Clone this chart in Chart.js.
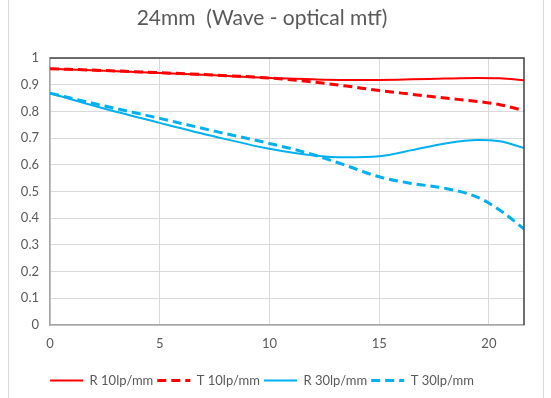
<!DOCTYPE html>
<html>
<head>
<meta charset="utf-8">
<script src="https://cdn.jsdelivr.net/npm/chart.js@4.4.0/dist/chart.umd.min.js"></script>
<style>
  body { margin: 0; background: #fff; }
  #wrap { position: relative; width: 551px; height: 398px; }
  #frame { position: absolute; left: 8px; top: 0; width: 534px; height: 398px;
           border-left: 1px solid #d9d9d9; border-right: 1px solid #d9d9d9; }
  canvas { position: absolute; left: 0; top: 0; }
</style>
</head>
<body>
<div id="wrap">
  <div id="frame"></div>
  <canvas id="mtfChart" width="551" height="398"></canvas>
</div>
<script>
// Datos
const titleText = '24mm  (Wave - optical mtf)';
const seriesNames = ['R 10lp/mm', 'T 10lp/mm', 'R 30lp/mm', 'T 30lp/mm'];
const xValues = [0, 2.5, 5, 7.5, 10, 12, 13.5, 15, 16.5, 18, 19.5, 20.5, 21.6];
const r10 = [0.960, 0.952, 0.944, 0.935, 0.925, 0.920, 0.918, 0.918, 0.920, 0.923, 0.925, 0.924, 0.917];
const t10 = [0.960, 0.953, 0.945, 0.936, 0.925, 0.910, 0.895, 0.878, 0.864, 0.850, 0.837, 0.825, 0.803];
const r30 = [0.868, 0.810, 0.757, 0.706, 0.660, 0.635, 0.628, 0.632, 0.655, 0.680, 0.693, 0.688, 0.663];
const t30 = [0.868, 0.820, 0.774, 0.726, 0.680, 0.638, 0.597, 0.555, 0.530, 0.512, 0.478, 0.430, 0.360];
const xTicks = [0, 5, 10, 15, 20];

const RED = '#ff0000';
const BLUE = '#00b0f0';
const TEXT = '#595959';
const DASH = [9, 5];

function toPoints(values) {
    return values.map((v, i) => ({ x: xValues[i], y: v }));
}

function makeSet(label, values, color, dashed) {
    return {
        label: label,
        data: toPoints(values),
        borderColor: color,
        backgroundColor: color,
        borderWidth: dashed ? 3 : 2,
        borderDash: dashed ? DASH : [],
        pointRadius: 0,
        cubicInterpolationMode: 'monotone',
        fill: false
    };
}

// Título y borde superior/derecho del área de trazado
const extras = {
    id: 'extras',
    afterDraw(chart) {
        const { ctx, chartArea } = chart;
        ctx.save();
        ctx.strokeStyle = '#404040';
        ctx.lineWidth = 1.5;
        ctx.beginPath();
        ctx.moveTo(chartArea.left, chartArea.top);
        ctx.lineTo(chartArea.right, chartArea.top);
        ctx.lineTo(chartArea.right, chartArea.bottom);
        ctx.stroke();
        ctx.fillStyle = TEXT;
        ctx.font = '21px Lato';
        ctx.textAlign = 'center';
        ctx.textBaseline = 'middle';
        ctx.fillText(titleText, 262, 18);
        ctx.restore();
    }
};

const ctx = document.getElementById('mtfChart').getContext('2d');
new Chart(ctx, {
    type: 'line',
    data: {
        datasets: [
            makeSet(seriesNames[0], r10, RED, false),
            makeSet(seriesNames[1], t10, RED, true),
            makeSet(seriesNames[2], r30, BLUE, false),
            makeSet(seriesNames[3], t30, BLUE, true)
        ]
    },
    options: {
        responsive: false,
        animation: false,
        layout: { padding: { top: 58, left: 0, right: 27, bottom: 1 } },
        font: { family: 'Lato' },
        scales: {
            x: {
                type: 'linear',
                min: 0,
                max: 21.6,
                afterBuildTicks: (scale) => { scale.ticks = xTicks.map(v => ({ value: v })); },
                afterFit: (scale) => { scale.height = 45; },
                grid: { color: '#d9d9d9', drawTicks: false },
                border: { color: '#a6a6a6', width: 1.5 },
                ticks: { color: TEXT, padding: 11, font: { family: 'Lato', size: 13 } }
            },
            y: {
                min: 0,
                max: 1,
                afterFit: (scale) => { scale.width = 50; },
                grid: { color: '#d9d9d9', drawTicks: false },
                border: { color: '#a6a6a6', width: 1.5 },
                ticks: {
                    stepSize: 0.1,
                    color: TEXT,
                    padding: 11,
                    font: { family: 'Lato', size: 13 },
                    callback: (v) => String(Math.round(v * 10) / 10)
                }
            }
        },
        plugins: {
            title: { display: false },
            tooltip: { enabled: false },
            legend: {
                position: 'bottom',
                labels: {
                    usePointStyle: true,
                    pointStyle: 'line',
                    pointStyleWidth: 33,
                    boxWidth: 33,
                    padding: 4,
                    color: TEXT,
                    font: { family: 'Lato', size: 13 },
                    generateLabels: (chart) => {
                        const items = Chart.defaults.plugins.legend.labels.generateLabels(chart);
                        items.forEach((item, i) => {
                            const ds = chart.data.datasets[i];
                            item.lineDash = ds.borderDash;
                            item.lineWidth = ds.borderWidth;
                            item.strokeStyle = ds.borderColor;
                        });
                        return items;
                    }
                }
            }
        }
    },
    plugins: [extras]
});
</script>
</body>
</html>
